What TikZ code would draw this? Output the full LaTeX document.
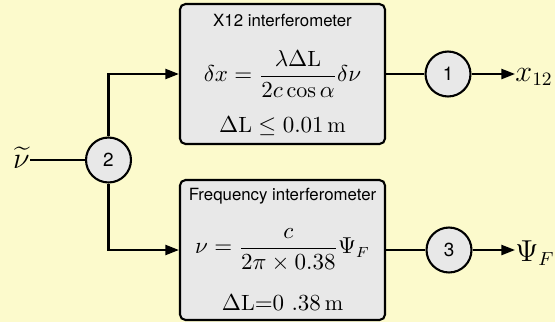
\documentclass[tikz,border=0pt]{standalone}
\usepackage{amsmath}
\usepackage{amssymb}
\usepackage{fontspec}
\setsansfont{TeX Gyre Heros}
\usetikzlibrary{arrows.meta,positioning}
\definecolor{hgrund}{HTML}{FCFACC}
\definecolor{kasten}{HTML}{E8E8E8}
\tikzset{
  block/.style={draw=black,fill=kasten,rounded corners=2.6pt,line width=1pt,minimum width=97.6pt,minimum height=66.6pt,inner sep=0pt},
  knoten/.style={circle,draw=black,fill=kasten,line width=1pt,minimum size=21.4pt,inner sep=0pt,font=\sffamily\small},
  titel/.style={inner sep=0pt,font=\sffamily\footnotesize},
  formel/.style={inner sep=0pt,font=\fontsize{10.5}{12.6}\selectfont},
  signal/.style={inner sep=0pt,font=\fontsize{13.5}{16}\selectfont},
  pfeil/.style={-{Triangle[length=6.5pt,width=4.8pt]},line width=1pt},
  leit/.style={line width=1pt},
}
\begin{document}
\begin{tikzpicture}[x=0.476pt,y=-0.476pt]
  % --- Hintergrund ---
  \fill[hgrund] (0,0) rectangle (555,322);
  \useasboundingbox (0,0) rectangle (555,322);
  % --- Interferometer ---
  \node[block] (xbox) at (282.5,74) {};
  \node[titel] (xtitel) at (282.5,20) {X12 interferometer};
  \node[formel] (xformel) at (282.5,74) {$\displaystyle \delta x=\frac{\lambda\Delta\mathrm{L}}{2c\cos\alpha}\delta\nu$};
  \node[formel] (xbereich) at (282.5,126) {$\Delta\mathrm{L}\leq 0.01\,\mathrm{m}$};
  \node[block] (fbox) at (282.5,250) {};
  \node[titel] (ftitel) at (282.5,196) {Frequency interferometer};
  \node[formel] (fformel) at (282.5,250) {$\displaystyle \nu=\frac{c}{2\pi\times 0.38}\Psi_F$};
  \node[formel] (fbereich) at (282.5,303) {$\Delta\mathrm{L}{=}0\ .38\,\mathrm{m}$};
  % --- Knoten ---
  \node[knoten] (k2) at (108.5,160) {2};
  \node[knoten] (k1) at (448,74) {1};
  \node[knoten] (k3) at (449,250) {3};
  % --- Ein- und Ausgaenge ---
  \node[signal,anchor=east] (nu) at (30,158) {$\widetilde{\nu}$};
  \node[signal,anchor=west] (xaus) at (515,77) {$x_{12}$};
  \node[signal,anchor=west] (psiaus) at (515,253) {$\Psi_F$};
  % --- Verbindungen ---
  \draw[leit] (nu.east |- k2) -- (k2.west);
  \draw[pfeil] (k2.north) |- (xbox.west);
  \draw[pfeil] (k2.south) |- (fbox.west);
  \draw[leit] (xbox.east) -- (k1.west);
  \draw[leit] (fbox.east) -- (k3.west);
  \draw[pfeil] (k1.east) -- (xaus.west |- k1);
  \draw[pfeil] (k3.east) -- (psiaus.west |- k3);
\end{tikzpicture}
\end{document}
